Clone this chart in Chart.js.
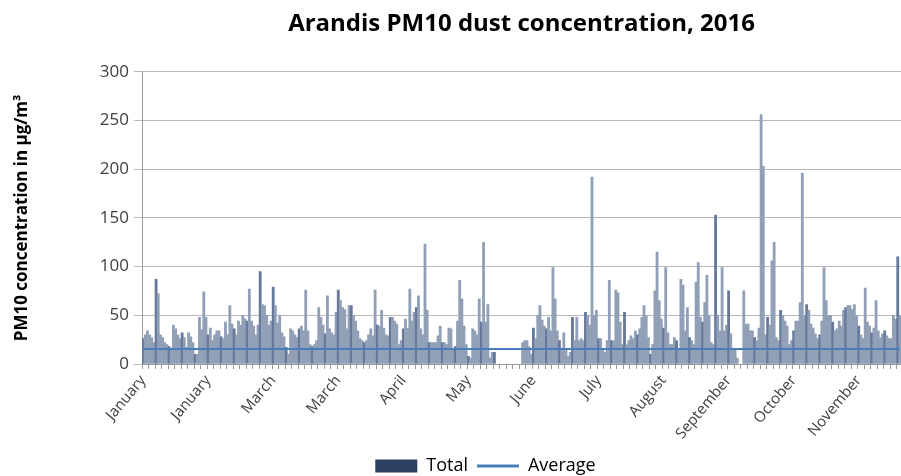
<!DOCTYPE html>
<html>
<head>
<meta charset="utf-8">
<title>Arandis PM10 dust concentration, 2016</title>
<script src="https://cdn.jsdelivr.net/npm/chart.js@4.4.1/dist/chart.umd.min.js"></script>
<style>
  html, body { margin: 0; padding: 0; background: #fff; }
</style>
</head>
<body>
<canvas id="chart" width="901" height="476"></canvas>
<script>
// month labels exactly as printed under the axis (one every 30 days)
const tickLabels = ['January', 'January', 'March', 'March', 'April', 'May',
    'June', 'July', 'August', 'September', 'October', 'November'];

// daily PM10 readings (ug/m3), null = no measurement
const pm10 = [
    26, 30, 34, 30, 27, 22, 87, 72, 30, 27,
    22, 20, 18, 14, 40, 36, 30, 26, 32, 27,
    17, 32, 28, 22, 10, 10, 48, 35, 74, 48,
    30, 37, 24, 30, 34, 34, 28, 26, 43, 30,
    60, 41, 36, 30, 44, 40, 50, 46, 44, 77,
    44, 39, 30, 40, 95, 61, 60, 50, 40, 44,
    79, 60, 42, 50, 32, 28, 17, 10, 36, 34,
    30, 27, 36, 39, 34, 76, 34, 20, 18, 20,
    24, 58, 48, 40, 31, 70, 36, 32, 30, 53,
    76, 65, 58, 56, 36, 60, 60, 50, 44, 34,
    26, 24, 22, 24, 30, 36, 29, 76, 40, 39,
    55, 37, 30, 29, 48, 48, 44, 41, 20, 24,
    36, 46, 37, 77, 44, 53, 58, 70, 36, 30,
    123, 55, 22, 22, 22, 22, 29, 39, 22, 22,
    20, 37, 36, 15, 18, 44, 86, 67, 39, 20,
    8, 6, 36, 34, 30, 67, 43, 125, 43, 61,
    6, 12, 12, null, null, null, null, null, null, null,
    null, null, null, null, null, 22, 24, 24, 18, 10,
    37, 26, 50, 60, 45, 39, 36, 48, 34, 99,
    67, 34, 24, 15, 32, 14, 8, 12, 48, 24,
    48, 24, 26, 24, 53, 50, 40, 192, 50, 55,
    26, 26, 14, 12, 24, 86, 24, 24, 76, 73,
    43, 20, 53, 20, 24, 29, 26, 34, 30, 36,
    48, 60, 50, 27, 10, 20, 75, 115, 65, 46,
    37, 99, 32, 20, 20, 27, 24, 15, 87, 81,
    34, 58, 27, 24, 20, 84, 104, 48, 43, 63,
    91, 50, 22, 20, 153, 50, 34, 99, 34, 40,
    75, 31, 14, 14, 6, null, null, 75, 41, 41,
    34, 34, 27, 24, 37, 256, 203, 30, 48, 40,
    106, 125, 27, 24, 55, 50, 44, 39, 20, 24,
    34, 44, 44, 63, 196, 50, 61, 55, 41, 37,
    31, 26, 30, 44, 99, 65, 50, 50, 43, 34,
    36, 44, 39, 55, 58, 60, 60, 56, 61, 50,
    39, 30, 26, 78, 43, 39, 32, 37, 65, 34,
    27, 31, 34, 29, 26, 26, 50, 46, 110, 50
];

const averageValue = 15.5;
const yMax = 300;
const yStep = 50;

const LABEL_EVERY = 30;
const days = pm10.map((v, i) => i % LABEL_EVERY === 0 ? tickLabels[i / LABEL_EVERY] : '');

const FONT = "'Open Sans', 'Liberation Sans', sans-serif";

function barColor(ctx) {
    if (ctx.type !== 'data') return '#2b4060';
    return ctx.dataIndex % 6 === 0 ? '#66799a' : '#91a0b6';
}

// nudge the legend right and down, the way it sits in the original
const legendShift = {
    id: 'legendShift',
    afterLayout(chart) {
        const lg = chart.legend;
        lg.left += 35;
        lg.right += 35;
        lg.top += 9;
        lg.bottom += 9;
    }
};

Chart.defaults.font.family = FONT;

new Chart(document.getElementById('chart'), {
    type: 'bar',
    data: {
        labels: days,
        datasets: [
            {
                type: 'line',
                label: 'Average',
                data: days.map(() => averageValue),
                borderColor: '#4a7ebb',
                backgroundColor: '#4a7ebb',
                borderWidth: 2,
                pointRadius: 0,
                order: 1
            },
            {
                type: 'bar',
                label: 'Total',
                data: pm10,
                backgroundColor: barColor,
                borderWidth: 0,
                categoryPercentage: 1,
                barPercentage: 1,
                order: 2
            }
        ]
    },
    options: {
        responsive: false,
        animation: false,
        layout: { padding: 0 },
        plugins: {
            title: {
                display: true,
                text: 'Arandis PM10 dust concentration, 2016',
                fullSize: false,
                color: '#000',
                font: { size: 24, weight: 'bold' },
                padding: { top: 10, bottom: 33 }
            },
            legend: {
                position: 'bottom',
                reverse: true,
                labels: {
                    color: '#000',
                    font: { size: 18 },
                    usePointStyle: true,
                    pointStyleWidth: 42,
                    boxHeight: 13,
                    padding: 9,
                    generateLabels(chart) {
                        const items = Chart.defaults.plugins.legend.labels.generateLabels(chart);
                        items.forEach(it => {
                            if (it.text === 'Total') {
                                it.pointStyle = 'rect';
                                it.fillStyle = '#2b4060';
                                it.strokeStyle = '#2b4060';
                                it.lineWidth = 0;
                            } else {
                                it.pointStyle = 'line';
                                it.strokeStyle = '#4a7ebb';
                                it.lineWidth = 3;
                            }
                        });
                        return items;
                    }
                }
            },
            tooltip: { enabled: false }
        },
        scales: {
            x: {
                offset: true,
                grid: {
                    drawOnChartArea: false,
                    tickLength: 5,
                    color: ctx => ctx.index % 3 === 0 ? '#9a9a9a' : 'rgba(0,0,0,0)'
                },
                border: { color: '#9a9a9a' },
                ticks: {
                    autoSkip: false,
                    minRotation: 50,
                    maxRotation: 50,
                    padding: 3,
                    color: '#404040',
                    font: { size: 15 }
                },
                afterFit(scale) {
                    scale.paddingRight = 0;
                    scale.height = 75;
                }
            },
            y: {
                min: 0,
                max: yMax,
                ticks: {
                    stepSize: yStep,
                    padding: 5,
                    color: '#404040',
                    font: { size: 17 }
                },
                grid: { color: '#b8b8b8', tickLength: 8 },
                border: { color: '#9a9a9a' },
                title: {
                    display: true,
                    text: 'PM10 concentration in µg/m³',
                    color: '#000',
                    font: { size: 17, weight: 'bold' },
                    padding: { top: 12, bottom: 0 }
                },
                afterFit(scale) {
                    scale.width = 142;
                }
            }
        }
    },
    plugins: [legendShift]
});
</script>
</body>
</html>
